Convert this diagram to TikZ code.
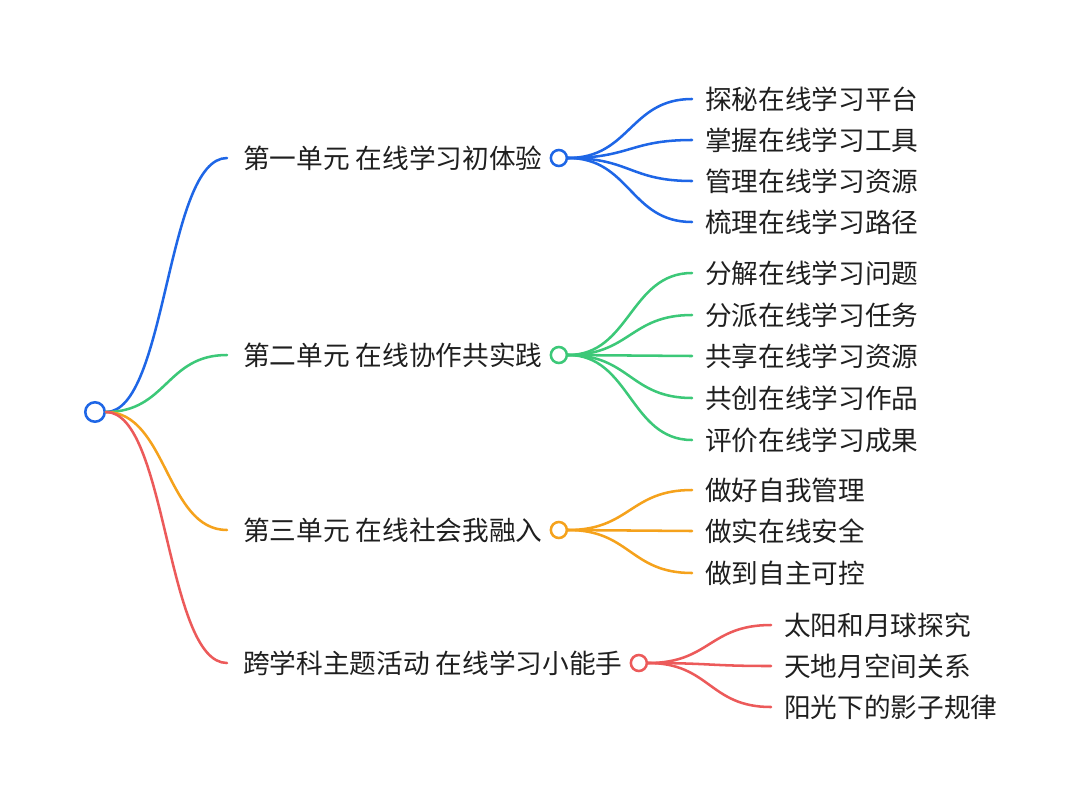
\documentclass[tikz,border=0pt]{standalone}
\usepackage{fontspec}
\newfontfamily\cjk{Noto Sans CJK SC}
\usetikzlibrary{positioning}
\definecolor{unitblue}{HTML}{1E66E6}
\definecolor{unitgreen}{HTML}{3CC878}
\definecolor{unitorange}{HTML}{F5A21C}
\definecolor{unitred}{HTML}{EC5A5A}
\tikzset{
    topic/.style={
        anchor=west,
        inner xsep=12pt,
        inner ysep=2pt,
        text=black!88,
        font=\cjk\fontsize{20}{24}\selectfont
    },
    leaf/.style={
        anchor=west,
        inner xsep=9.75pt,
        inner ysep=2pt,
        text=black!88,
        font=\cjk\fontsize{20}{24}\selectfont
    },
    knot/.style={
        circle,
        draw=#1,
        fill=white,
        line width=1.9pt,
        minimum size=12pt,
        inner sep=0pt
    },
    link/.style={
        line width=1.9pt,
        line cap=round
    }
}
\begin{document}
\begin{tikzpicture}[x=0.75pt,y=-0.75pt]
\useasboundingbox (0,0) rectangle (1080,803);

\node[knot=unitblue, minimum size=14.6pt] (root) at (95,412) {};

% units
\node[topic] (u1) at (227,158) {第一单元 在线学习初体验};
\node[topic] (u2) at (227,355) {第二单元 在线协作共实践};
\node[topic] (u3) at (227,530) {第三单元 在线社会我融入};
\node[topic] (u4) at (227,663) {跨学科主题活动 在线学习小能手};

\node[knot=unitblue] (c1) at (u1.east) {};
\node[knot=unitgreen] (c2) at (u2.east) {};
\node[knot=unitorange] (c3) at (u3.east) {};
\node[knot=unitred] (c4) at (u4.east) {};

\draw[link, unitblue] (root.east) .. controls +(61,0) and +(-61,0) .. (u1.west);
\draw[link, unitgreen] (root.east) .. controls +(61,0) and +(-61,0) .. (u2.west);
\draw[link, unitorange] (root.east) .. controls +(61,0) and +(-61,0) .. (u3.west);
\draw[link, unitred] (root.east) .. controls +(61,0) and +(-61,0) .. (u4.west);

% lessons
\foreach \y/\txt [count=\i] in {99/探秘在线学习平台, 140/掌握在线学习工具,
    181/管理在线学习资源, 222/梳理在线学习路径} {
  \node[leaf] (a\i) at (692,\y) {\txt};
  \draw[link, unitblue] (c1.east) .. controls +(62,0) and +(-62,0) .. (a\i.west);
}
\foreach \y/\txt [count=\i] in {273/分解在线学习问题, 315/分派在线学习任务,
    356/共享在线学习资源, 398/共创在线学习作品, 440/评价在线学习成果} {
  \node[leaf] (b\i) at (692,\y) {\txt};
  \draw[link, unitgreen] (c2.east) .. controls +(62,0) and +(-62,0) .. (b\i.west);
}
\foreach \y/\txt [count=\i] in {490/做好自我管理, 531/做实在线安全, 573/做到自主可控} {
  \node[leaf] (d\i) at (692,\y) {\txt};
  \draw[link, unitorange] (c3.east) .. controls +(62,0) and +(-62,0) .. (d\i.west);
}
\foreach \y/\txt [count=\i] in {625/太阳和月球探究, 666/天地月空间关系, 707/阳光下的影子规律} {
  \node[leaf] (e\i) at (771,\y) {\txt};
  \draw[link, unitred] (c4.east) .. controls +(62,0) and +(-62,0) .. (e\i.west);
}

\end{tikzpicture}
\end{document}
